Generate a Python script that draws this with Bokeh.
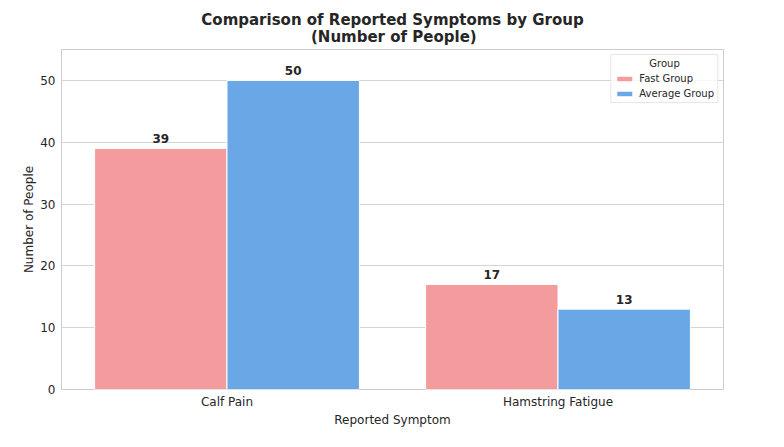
from bokeh.plotting import figure
from bokeh.models import ColumnDataSource, FactorRange, Range1d, FixedTicker, Title
from bokeh.transform import dodge
from bokeh.core.properties import value
from bokeh.embed import file_html
from bokeh.resources import INLINE

symptoms = ["Calf Pain", "Hamstring Fatigue"]
fast_group = [39, 17]
average_group = [50, 13]
y_ticks = [0, 10, 20, 30, 40, 50]

FONT = "DejaVu Sans"
TXT = "#262626"
PINK = "#F49B9D"
BLUE = "#6AA7E6"

src = ColumnDataSource(dict(sym=symptoms, fast=fast_group, avg=average_group,
                            fast_t=[str(v) for v in fast_group],
                            avg_t=[str(v) for v in average_group]))

p = figure(width=768, height=431, x_range=FactorRange(*symptoms), y_range=Range1d(0, 55),
           output_backend="svg", toolbar_location=None,
           min_border_left=61, min_border_right=45, min_border_bottom=42, min_border_top=49)
p.title = None
pad = "\u00a0" * 21
p.add_layout(Title(text="Comparison of Reported Symptoms by Group\n" + pad + "(Number of People)",
                   align="center", text_font=FONT, text_line_height=0.95,
                   text_font_size="15px", text_font_style="bold", text_color=TXT,
                   standoff=6, offset=0), "above")

p.vbar(x=dodge("sym", -0.2, range=p.x_range), top="fast", width=0.4, source=src,
       fill_color=PINK, line_color="white", line_width=1, legend_label="Fast Group")
p.vbar(x=dodge("sym", 0.2, range=p.x_range), top="avg", width=0.4, source=src,
       fill_color=BLUE, line_color="white", line_width=1, legend_label="Average Group")

for col, off in (("fast", -0.2), ("avg", 0.2)):
    p.text(x=dodge("sym", off, range=p.x_range), y=col, text=col + "_t", source=src,
           text_align="center", text_baseline="bottom", y_offset=-5,
           text_font=value(FONT), text_font_size="12px", text_font_style="bold",
           text_color=TXT)

p.xgrid.grid_line_color = None
p.ygrid.grid_line_color = "#d5d5d5"
p.ygrid.grid_line_width = 1
p.outline_line_color = "#cccccc"
p.outline_line_width = 1
p.background_fill_color = "white"
p.border_fill_color = "white"

p.yaxis.ticker = FixedTicker(ticks=y_ticks)
for ax in (p.xaxis[0], p.yaxis[0]):
    ax.axis_line_color = None
    ax.major_tick_line_color = None
    ax.minor_tick_line_color = None
    ax.major_tick_in = 0
    ax.major_tick_out = 0
    ax.minor_tick_in = 0
    ax.minor_tick_out = 0
    ax.major_label_text_font = FONT
    ax.major_label_text_font_size = "12px"
    ax.major_label_text_color = TXT
    ax.axis_label_text_font = FONT
    ax.axis_label_text_font_size = "12px"
    ax.axis_label_text_font_style = "normal"
    ax.axis_label_text_color = TXT
p.xaxis.axis_label = "Reported Symptom"
p.yaxis.axis_label = "Number of People"
p.xaxis.major_label_standoff = 5
p.yaxis.major_label_standoff = 6
p.xaxis.axis_label_standoff = 1
p.yaxis.axis_label_standoff = 1

lg = p.legend[0]
lg.location = "top_right"
lg.margin = 5
lg.title = "\u00a0\u00a0\u00a0\u00a0\u00a0\u00a0\u00a0\u00a0\u00a0\u00a0\u00a0Group"
lg.title_text_font = FONT
lg.title_text_font_size = "10px"
lg.title_text_font_style = "normal"
lg.title_text_color = TXT
lg.title_standoff = 4
lg.label_text_font = FONT
lg.label_text_font_size = "10px"
lg.label_text_color = TXT
lg.glyph_height = 7
lg.glyph_width = 20
lg.label_height = 11
lg.spacing = 4
lg.padding = 3
lg.border_line_color = "#d0d0d0"
lg.background_fill_alpha = 0.8

open("out.html", "w").write(file_html(p, INLINE))
